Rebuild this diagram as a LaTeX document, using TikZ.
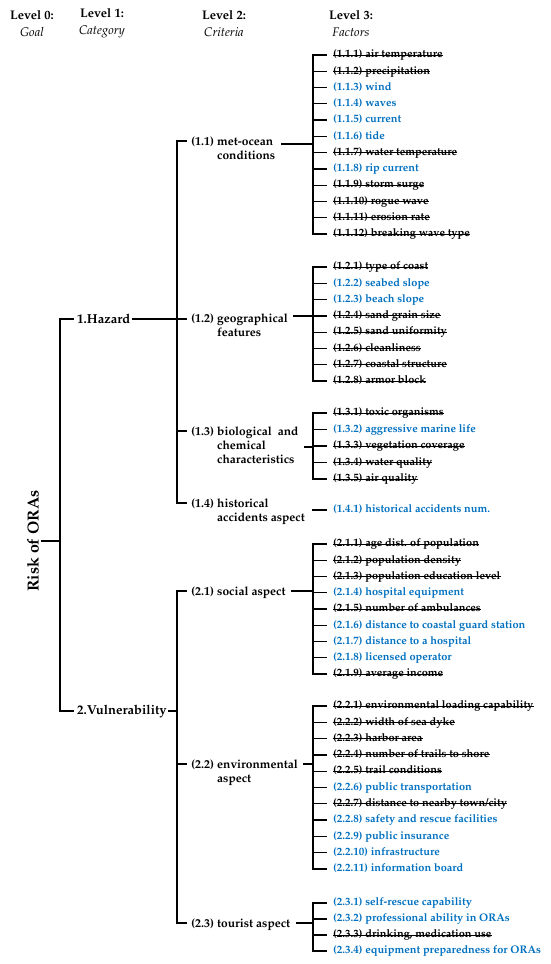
\documentclass[tikz,border=0pt]{standalone}
\usepackage[T1]{fontenc}
\usepackage{mathpazo}
\definecolor{fblue}{RGB}{0,112,192}
\renewcommand{\arraystretch}{1.1}
\tikzset{
  conn/.style={line width=1.3pt, line cap=rect},
  item/.style={anchor=west, inner sep=0pt, font=\fontsize{11}{12}\selectfont\bfseries, text height=8pt, text depth=2.5pt},
  g/.style={text=black, append after command={(\tikzlastnode.west) edge[line width=0.9pt, line cap=butt] (\tikzlastnode.east)}},
  b/.style={text=fblue},
  crit/.style={anchor=base west, inner sep=0pt, font=\fontsize{12}{13}\selectfont\bfseries},
  cat/.style={anchor=west, inner sep=0pt, font=\fontsize{13}{15}\selectfont\bfseries},
  head/.style={align=center, inner sep=0pt, font=\fontsize{12.5}{17}\selectfont},
  goal/.style={rotate=90, inner sep=0pt, font=\fontsize{16}{18}\selectfont\bfseries},
}
\newcommand\factorgroup[5]{%
  \foreach \fstyle/\ftext [count=\i from 0] in {#5} {
    \node[item,\fstyle] (f#1-\i) at (333,{#3+#4*\i}) {\ftext};
    \draw[conn] (f#1-\i.west -| #2) -- ([xshift=-7pt]f#1-\i.west);
  }
}
\newcommand\crittext[2]{\begin{tabular}[t]{@{}l@{\ }l@{}}#1 & #2\end{tabular}}
\begin{document}
\begin{tikzpicture}[x=1pt,y=-1pt]
\useasboundingbox (0,0) rectangle (550,964);

% header
\node[head] (hd0) at (32,23.5) {\textbf{Level 0:}\\\textit{Goal}};
\node[head] (hd1) at (102,23.5) {\textbf{Level 1:}\\\textit{Category}};
\node[head] (hd2) at (224,23.5) {\textbf{Level 2:}\\\textit{Criteria}};
\node[head] (hd3) at (351,23.5) {\textbf{Level 3:}\\\textit{Factors}};

% level 0 and level 1
\node[goal] (r) at (33,541) {Risk of ORAs};
\coordinate (k) at (60,541);
\node[cat] (hz) at (77,319) {1.Hazard};
\node[cat] (vu) at (77,711) {2.Vulnerability};
\draw[conn] ([xshift=3pt]r.south) -- (k);
\draw[conn] ([xshift=-4pt]hz.west) -| (k) |- ([xshift=-4pt]vu.west);

% level 2 joints
\coordinate (h11) at (177,141);
\coordinate (h12) at (177,319);
\coordinate (h13) at (177,431);
\coordinate (h14) at (177,503);
\coordinate (h21) at (177,591);
\coordinate (h22) at (177,764);
\coordinate (h23) at (177,923);

% level 2 labels
\node[crit] (l11) at (191,145) {\crittext{(1.1)}{met-ocean\\ & conditions}};
\node[crit] (l12) at (191,322) {\crittext{(1.2)}{geographical\\ & features}};
\node[crit] (l13) at (191,435) {\crittext{(1.3)}{biological\ \ and\\ & chemical\\ & characteristics}};
\node[crit] (l14) at (191,507) {\crittext{(1.4)}{historical\\ & accidents aspect}};
\node[crit] (l21) at (191,595) {\crittext{(2.1)}{social aspect}};
\node[crit] (l22) at (191,768) {\crittext{(2.2)}{environmental\\ & aspect}};
\node[crit] (l23) at (191,927) {\crittext{(2.3)}{tourist aspect}};

\draw[conn] ([xshift=2pt]hz.east) -- (hz -| h12);
\draw[conn] ([xshift=2pt]vu.east) -- (vu -| h21);
\draw[conn] (h11) -- (h14);
\draw[conn] (h21) -- (h23);
\foreach \n in {11,12,13,14,21,22,23}
  \draw[conn] (h\n) -- ([xshift=-5pt]h\n -| l\n.west);

% bracket joints
\coordinate (b11) at (313,144);
\coordinate (b12) at (313,316);
\coordinate (b13) at (313,447);
\coordinate (b14) at (313,510);
\coordinate (b21) at (313,591);
\coordinate (b22) at (313,764);
\coordinate (b23) at (313,923);
\foreach \n in {11,12,13,21,22,23}
  \draw[conn] ([xshift=6pt]l\n.east |- b\n) -- (b\n);

% level 3
\factorgroup{11}{b11}{55}{16.27}{g/{(1.1.1) air temperature},g/{(1.1.2) precipitation},b/{(1.1.3) wind},b/{(1.1.4) waves},b/{(1.1.5) current},b/{(1.1.6) tide},g/{(1.1.7) water temperature},b/{(1.1.8) rip current},g/{(1.1.9) storm surge},g/{(1.1.10) rogue wave},g/{(1.1.11) erosion rate},g/{(1.1.12) breaking wave type}}
\draw[conn] (f11-0.west -| b11) -- (f11-11.west -| b11);

\factorgroup{12}{b12}{267}{16.3}{g/{(1.2.1) type of coast},b/{(1.2.2) seabed slope},b/{(1.2.3) beach slope},g/{(1.2.4) sand grain size},g/{(1.2.5) sand uniformity},g/{(1.2.6) cleanliness},g/{(1.2.7) coastal structure},g/{(1.2.8) armor block}}
\draw[conn] (f12-0.west -| b12) -- (f12-7.west -| b12);

\factorgroup{13}{b13}{413}{16.5}{g/{(1.3.1) toxic organisms},b/{(1.3.2) aggressive marine life},g/{(1.3.3) vegetation coverage},g/{(1.3.4) water quality},g/{(1.3.5) air quality}}
\draw[conn] (f13-0.west -| b13) -- (f13-4.west -| b13);

\factorgroup{14}{b14}{510}{0}{b/{(1.4.1) historical accidents num.}}

\factorgroup{21}{b21}{544}{16.25}{g/{(2.1.1) age dist. of population},g/{(2.1.2) population density},g/{(2.1.3) population education level},b/{(2.1.4) hospital equipment},g/{(2.1.5) number of ambulances},b/{(2.1.6) distance to coastal guard station},b/{(2.1.7) distance to a hospital},b/{(2.1.8) licensed operator},g/{(2.1.9) average income}}
\draw[conn] (f21-0.west -| b21) -- (f21-8.west -| b21);

\factorgroup{22}{b22}{706}{16.3}{g/{(2.2.1) environmental loading capability},g/{(2.2.2) width of sea dyke},g/{(2.2.3) harbor area},g/{(2.2.4) number of trails to shore},g/{(2.2.5) trail conditions},b/{(2.2.6) public transportation},g/{(2.2.7) distance to nearby town/city},b/{(2.2.8) safety and rescue facilities},b/{(2.2.9) public insurance},b/{(2.2.10) infrastructure},b/{(2.2.11) information board}}
\draw[conn] (f22-0.west -| b22) -- (f22-10.west -| b22);

\factorgroup{23}{b23}{903}{16}{b/{(2.3.1) self-rescue capability},b/{(2.3.2) professional ability in ORAs},g/{(2.3.3) drinking, medication use},b/{(2.3.4) equipment preparedness for ORAs}}
\draw[conn] (f23-0.west -| b23) -- (f23-3.west -| b23);
\end{tikzpicture}
\end{document}
